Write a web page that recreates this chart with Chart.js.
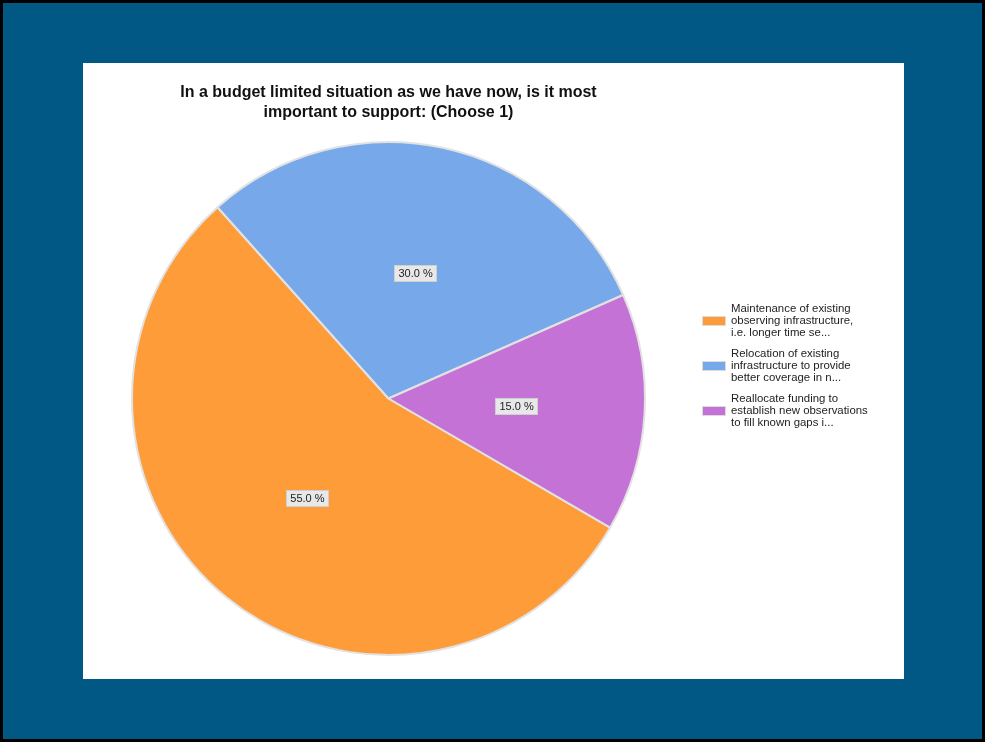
<!DOCTYPE html>
<html>
<head>
<meta charset="utf-8">
<script src="https://cdn.jsdelivr.net/npm/chart.js@4/dist/chart.umd.min.js"></script>
<style>
    html, body { margin: 0; padding: 0; }
    body { width: 985px; height: 742px; background: #000; position: relative; overflow: hidden; }
    #frame { position: absolute; left: 3px; top: 3px; width: 979px; height: 736px; background: #025884; }
    #panel { position: absolute; left: 83px; top: 63px; width: 821px; height: 616px; background: #fff; }
</style>
</head>
<body>
<div id="frame"></div>
<div id="panel"><canvas id="budgetChart" width="821" height="616"></canvas></div>
<script>
// values
const legendLines = [
    ['Maintenance of existing', 'observing infrastructure,', 'i.e. longer time se...'],
    ['Relocation of existing', 'infrastructure to provide', 'better coverage in n...'],
    ['Reallocate funding to', 'establish new observations', 'to fill known gaps i...']
];
const shares = [55.0, 30.0, 15.0];
const sliceColors = ['#FF9C3A', '#77A8EA', '#C472D6'];
const titleLines = ['In a budget limited situation as we have now, is it most', 'important to support: (Choose 1)'];

document.addEventListener('DOMContentLoaded', () => {
    // percent boxes drawn at the middle of each slice
    const sliceLabels = {
        id: 'sliceLabels',
        afterDatasetsDraw(chart) {
            const ctx = chart.ctx;
            ctx.save();
            ctx.font = '11px "Liberation Sans", Arial, sans-serif';
            ctx.textAlign = 'center';
            ctx.textBaseline = 'middle';
            chart.getDatasetMeta(0).data.forEach((arc, i) => {
                const { x, y } = arc.getCenterPoint();
                const txt = shares[i].toFixed(1) + ' %';
                const w = ctx.measureText(txt).width + 8;
                const h = 16;
                ctx.fillStyle = '#e8e8e8';
                ctx.fillRect(Math.round(x - w / 2) + 0.5, Math.round(y - h / 2) + 0.5, Math.round(w), h);
                ctx.strokeStyle = '#cfcfcf';
                ctx.lineWidth = 1;
                ctx.strokeRect(Math.round(x - w / 2) + 0.5, Math.round(y - h / 2) + 0.5, Math.round(w), h);
                ctx.fillStyle = '#222';
                ctx.fillText(txt, x, y + 1);
            });
            ctx.restore();
        }
    };

    // legend on the right with wrapped text
    const sideLegend = {
        id: 'sideLegend',
        afterDraw(chart) {
            const ctx = chart.ctx;
            ctx.save();
            ctx.font = '11.4px "Liberation Sans", Arial, sans-serif';
            ctx.textBaseline = 'middle';
            const left = 619, top = 246, gap = 45, lh = 12;
            legendLines.forEach((lines, i) => {
                const y0 = top + i * gap;
                ctx.fillStyle = '#dcdcdc';
                ctx.fillRect(left, y0 + lh - 5, 24, 10);
                ctx.fillStyle = sliceColors[i];
                ctx.fillRect(left + 1, y0 + lh - 4, 22, 8);
                ctx.fillStyle = '#222';
                lines.forEach((ln, j) => ctx.fillText(ln, left + 29, y0 + j * lh));
            });
            ctx.restore();
        }
    };

    const ctx = document.getElementById('budgetChart').getContext('2d');
    new Chart(ctx, {
        type: 'pie',
        data: {
            labels: legendLines.map(l => l.join(' ')),
            datasets: [{
                data: shares,
                backgroundColor: sliceColors,
                borderColor: '#e2e2e2',
                borderWidth: 2
            }]
        },
        options: {
            responsive: false,
            animation: false,
            rotation: 120.2,
            layout: { padding: { left: 48, right: 258, top: 0, bottom: 23 } },
            plugins: {
                legend: { display: false },
                tooltip: { enabled: false },
                title: {
                    display: true,
                    text: titleLines,
                    fullSize: false,
                    color: '#111',
                    font: { family: '"Liberation Sans", Arial, sans-serif', size: 16, weight: 'bold', lineHeight: 1.25 },
                    padding: { top: 20, bottom: 18 }
                }
            }
        },
        plugins: [sliceLabels, sideLegend]
    });
});
</script>
</body>
</html>
